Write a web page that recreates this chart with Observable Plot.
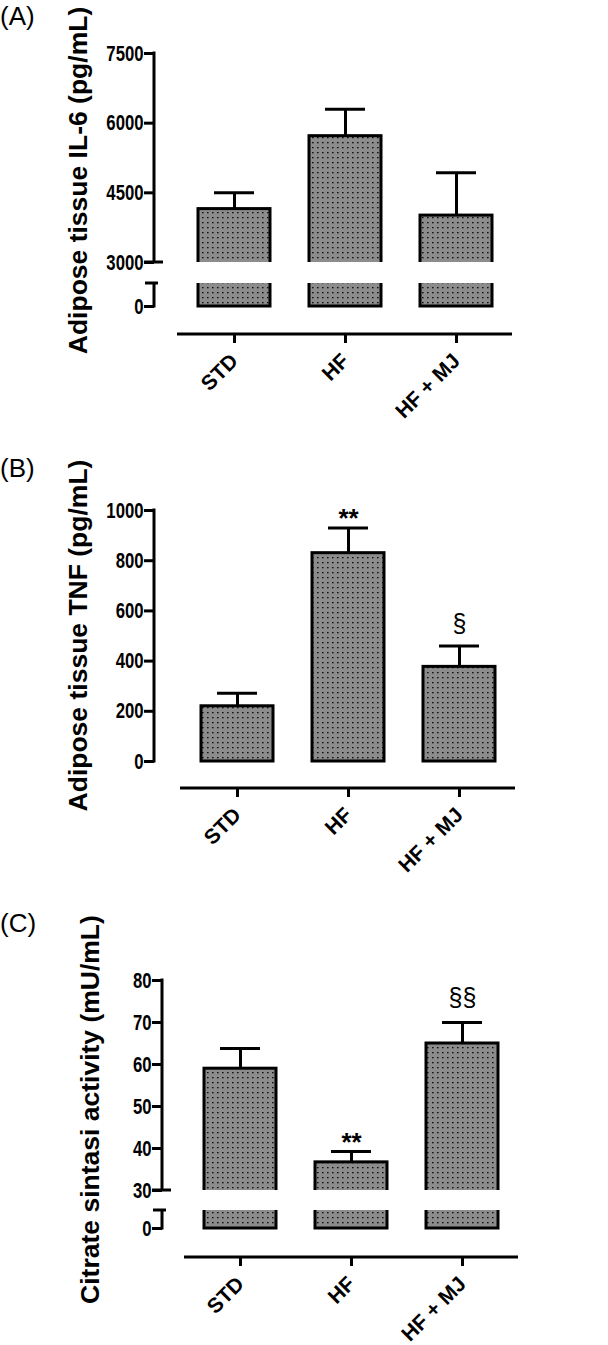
<!DOCTYPE html>
<html><head><meta charset="utf-8">
<script src="https://cdn.jsdelivr.net/npm/d3@7"></script>
<script src="https://cdn.jsdelivr.net/npm/@observablehq/plot@0.6"></script>
<style>
body{margin:0;background:#fff;}
#wrap{position:relative;width:608px;height:1345px;overflow:hidden;font-family:"Liberation Sans",Arial,sans-serif;}
.panel{position:absolute;left:0;}
.tag{position:absolute;left:0;font-size:26px;line-height:1;font-family:"Liberation Sans",Arial,sans-serif;}
</style></head><body><div id="wrap"></div>
<script>
const groups = ["STD", "HF", "HF + MJ"];

const il6Mean = [4150, 5720, 4010];
const il6Sem = [350, 580, 920];
const il6Sig = ["", "", ""];
const il6Ticks = [0, 3000, 4500, 6000, 7500];

const tnfMean = [220, 830, 377];
const tnfSem = [52, 100, 83];
const tnfSig = ["", "**", "§"];
const tnfTicks = [0, 200, 400, 600, 800, 1000];

const csMean = [59, 36.7, 65];
const csSem = [4.8, 2.6, 5];
const csSig = ["", "**", "§§"];
const csTicks = [0, 30, 40, 50, 60, 70, 80];

const panels = [
  {id: "A", tag: "(A)", tagTop: 3, top: 0, height: 420,
   label: "Adipose tissue IL-6 (pg/mL)",
   mean: il6Mean, sem: il6Sem, sig: il6Sig, ticks: il6Ticks,
   yDomain: [0, 500, 3000, 7500], yRange: [306, 283, 262, 53], brk: [500, 3000],
   xRange: [177, 512], marginLeft: 154, marginTop: 26, marginBottom: 86, labelDx: -86,
   starDy: -9, secDy: -22},
  {id: "B", tag: "(B)", tagTop: 455, top: 420, height: 460,
   label: "Adipose tissue TNF (pg/mL)",
   mean: tnfMean, sem: tnfSem, sig: tnfSig, ticks: tnfTicks,
   yDomain: [0, 1000], yRange: [341, 90], brk: null,
   xRange: [180, 515], marginLeft: 154, marginTop: 62, marginBottom: 92, labelDx: -86,
   starDy: -9, secDy: -22},
  {id: "C", tag: "(C)", tagTop: 910, top: 880, height: 465,
   label: "Citrate sintasi activity (mU/mL)",
   mean: csMean, sem: csSem, sig: csSig, ticks: csTicks,
   yDomain: [0, 5, 30, 80], yRange: [348, 330, 310, 100], brk: [5, 30],
   xRange: [184, 518], marginLeft: 162, marginTop: 81, marginBottom: 88, labelDx: -82,
   starDy: -9, secDy: -25}
];

function patternDefs(id) {
  return () => {
    const g = d3.create("svg:g");
    const p = g.append("defs").append("pattern")
      .attr("id", "dots" + id).attr("patternUnits", "userSpaceOnUse")
      .attr("width", 5).attr("height", 5);
    p.append("rect").attr("width", 5).attr("height", 5).attr("fill", "#8c8c8c");
    p.append("rect").attr("x", 2).attr("y", 2).attr("width", 1.6).attr("height", 1.3).attr("fill", "#111");
    return g.node();
  };
}

function axisDecor(cfg, ymap) {
  return (index, scales, values, dims) => {
    const x = scales.x;
    const y = v => ymap(v);
    const ax = dims.marginLeft;
    const d0 = cfg.yDomain[0], d1 = cfg.yDomain[cfg.yDomain.length - 1];
    const g = d3.create("svg:g").attr("stroke", "#000").attr("stroke-width", 3).attr("fill", "none");
    if (cfg.brk) {
      const [lo, hi] = cfg.brk;
      g.append("path").attr("d", `M${ax},${y(d1) - 1.5}V${y(hi)}M${ax - 10},${y(hi)}H${ax + 9}`);
      g.append("path").attr("d", `M${ax - 9},${y(lo)}H${ax + 4}M${ax},${y(lo) - 1.5}V${y(d0) + 1.5}`);
    } else {
      g.append("path").attr("d", `M${ax},${y(d1) - 1.5}V${y(d0) + 1.5}`);
    }
    const [r0, r1] = x.range();
    const ay = dims.height - dims.marginBottom;
    g.append("path").attr("d", `M${r0},${ay}H${r1}`);
    return g.node();
  };
}

const wrap = document.getElementById("wrap");

for (const cfg of panels) {
  const ymap = d3.scaleLinear().domain(cfg.yDomain).range(cfg.yRange);
  const rows = groups.map((g, i) => ({g, m: cfg.mean[i], s: cfg.sem[i], sig: cfg.sig[i]}));
  const fill = `url(#dots${cfg.id})`;
  const marks = [
    patternDefs(cfg.id),
    Plot.ruleX(rows, {x: "g", y1: "m", y2: d => d.m + d.s, stroke: "#000", strokeWidth: 3}),
    Plot.tickY(rows, {x: "g", y: d => d.m + d.s, stroke: "#000", strokeWidth: 3, insetLeft: 16, insetRight: 16}),
    Plot.barY(rows, {x: "g", y1: () => cfg.yDomain[0], y2: "m", fill, stroke: "#000", strokeWidth: 3})
  ];
  if (cfg.brk) {
    marks.push(Plot.barY(rows, {x: "g", y1: () => cfg.brk[0], y2: () => cfg.brk[1], fill: "white", insetLeft: -3, insetRight: -3}));
  }
  marks.push(
    axisDecor(cfg, ymap),
    Plot.axisY(cfg.ticks, {tickSize: 10, tickPadding: 1, strokeWidth: 3,
      fontSize: 22, fontWeight: "bold", label: null, tickFormat: d => String(d)}),
    Plot.axisX({tickSize: 9, tickRotate: -45, tickPadding: 14, strokeWidth: 3,
      fontSize: 21, fontWeight: "bold", label: null}),
    Plot.text([cfg.label], {frameAnchor: "left", rotate: -90, dx: cfg.labelDx, lineAnchor: "top", textAnchor: "middle",
      fontSize: 26.5, fontWeight: "bold", fill: "#000"}),
    Plot.text(rows.filter(d => d.sig === "**"), {x: "g", y: d => d.m + d.s, text: "sig", dy: cfg.starDy,
      fontSize: 26, fontWeight: "bold"}),
    Plot.text(rows.filter(d => d.sig.startsWith("§")), {x: "g", y: d => d.m + d.s, text: "sig", dy: cfg.secDy,
      fontSize: 25})
  );
  const chart = Plot.plot({
    width: 608, height: cfg.height,
    marginLeft: cfg.marginLeft, marginRight: 0, marginTop: cfg.marginTop, marginBottom: cfg.marginBottom,
    style: {background: "none", overflow: "visible", fontFamily: "'Liberation Sans', Arial, sans-serif", color: "#000"},
    x: {domain: groups, range: cfg.xRange, paddingInner: 0.355, paddingOuter: 0.1775, axis: null},
    y: {type: "identity", transform: ymap, axis: null},
    marks
  });
  // condense the y tick labels (narrow bold face of the original)
  d3.select(chart).selectAll('g[aria-label="y-axis tick label"] text').each(function() {
    const t = this.getAttribute("transform") || "";
    this.setAttribute("transform", t + " scale(0.76,1)");
  });
  chart.classList.add("panel");
  chart.style.top = cfg.top + "px";
  wrap.appendChild(chart);
  const t = document.createElement("div");
  t.className = "tag";
  t.style.top = cfg.tagTop + "px";
  t.textContent = cfg.tag;
  wrap.appendChild(t);
}
</script></body></html>
